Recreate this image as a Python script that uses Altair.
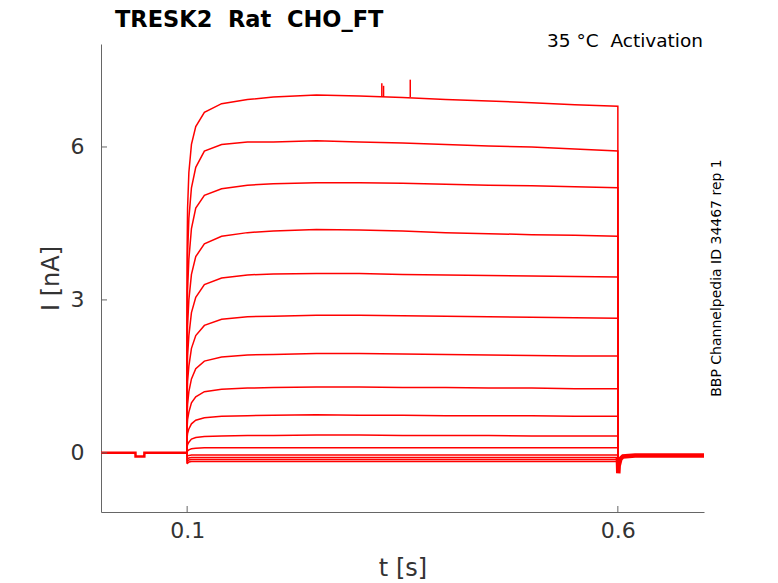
import altair as alt
import pandas as pd

# ---- data ----
TITLE = "TRESK2\u00a0\u00a0Rat\u00a0\u00a0CHO_FT"
CONDITION = "35\u00a0°C\u00a0\u00a0Activation"
SIDE_NOTE = "BBP Channelpedia ID 34467 rep 1"

X_TICKS = [0.1, 0.6]
Y_TICKS = [0, 3, 6]

# holding segment before the step (all sweeps overlap)
PRE_T = [0.0, 0.040, 0.0401, 0.0503, 0.0504, 0.1]
PRE_I = [0.0, 0.0, -0.07, -0.07, 0.0, 0.0]

# step segment sample times
STEP_T = [0.1, 0.1005, 0.102, 0.105, 0.11, 0.12, 0.14, 0.17, 0.2, 0.25,
          0.3, 0.35, 0.4, 0.45, 0.5, 0.55, 0.6]

TRACE_01 = [4.0, 4.8, 5.5, 6.05, 6.4, 6.68, 6.85, 6.93, 6.98, 7.02, 7.0, 6.97, 6.93, 6.9, 6.87, 6.83, 6.8]
TRACE_02 = [3.2, 3.9, 4.6, 5.2, 5.6, 5.92, 6.05, 6.1, 6.1, 6.12, 6.1, 6.08, 6.05, 6.02, 6.0, 5.96, 5.92]
TRACE_03 = [2.6, 3.2, 3.8, 4.4, 4.8, 5.05, 5.18, 5.25, 5.28, 5.3, 5.3, 5.29, 5.27, 5.25, 5.24, 5.22, 5.2]
TRACE_04 = [2.0, 2.5, 3.0, 3.5, 3.85, 4.1, 4.25, 4.32, 4.35, 4.38, 4.37, 4.35, 4.32, 4.3, 4.28, 4.27, 4.25]
TRACE_05 = [1.5, 1.9, 2.3, 2.75, 3.05, 3.3, 3.43, 3.49, 3.51, 3.52, 3.52, 3.5, 3.49, 3.48, 3.47, 3.46, 3.45]
TRACE_06 = [1.1, 1.4, 1.7, 2.05, 2.3, 2.5, 2.62, 2.67, 2.68, 2.7, 2.7, 2.69, 2.68, 2.67, 2.66, 2.65, 2.64]
TRACE_07 = [0.75, 0.95, 1.2, 1.45, 1.65, 1.8, 1.88, 1.92, 1.93, 1.95, 1.95, 1.94, 1.93, 1.92, 1.91, 1.9, 1.9]
TRACE_08 = [0.5, 0.65, 0.8, 0.98, 1.1, 1.2, 1.25, 1.27, 1.28, 1.29, 1.29, 1.28, 1.28, 1.27, 1.27, 1.26, 1.26]
TRACE_09 = [0.3, 0.38, 0.47, 0.57, 0.64, 0.69, 0.72, 0.73, 0.74, 0.75, 0.74, 0.74, 0.73, 0.73, 0.73, 0.72, 0.72]
TRACE_10 = [0.12, 0.16, 0.21, 0.27, 0.3, 0.32, 0.33, 0.34, 0.34, 0.35, 0.35, 0.34, 0.34, 0.34, 0.33, 0.33, 0.33]
TRACE_11 = [0.02, 0.04, 0.06, 0.08, 0.09, 0.1, 0.1, 0.1, 0.1, 0.1, 0.1, 0.1, 0.1, 0.1, 0.1, 0.1, 0.1]
TRACE_12 = [-0.08, -0.06, -0.05, -0.04, -0.04, -0.04, -0.04, -0.04, -0.04, -0.04, -0.04, -0.04, -0.04, -0.04, -0.04, -0.04, -0.04]
TRACE_13 = [-0.15, -0.12, -0.1, -0.09, -0.09, -0.09, -0.09, -0.09, -0.09, -0.09, -0.09, -0.09, -0.09, -0.09, -0.09, -0.09, -0.09]
TRACE_14 = [-0.2, -0.16, -0.14, -0.13, -0.13, -0.13, -0.13, -0.13, -0.13, -0.13, -0.13, -0.13, -0.13, -0.13, -0.13, -0.13, -0.13]
TRACE_15 = [-0.22, -0.2, -0.18, -0.17, -0.17, -0.17, -0.17, -0.17, -0.17, -0.17, -0.17, -0.17, -0.17, -0.17, -0.17, -0.17, -0.17]
TRACES = [TRACE_01, TRACE_02, TRACE_03, TRACE_04, TRACE_05, TRACE_06, TRACE_07, TRACE_08,
          TRACE_09, TRACE_10, TRACE_11, TRACE_12, TRACE_13, TRACE_14, TRACE_15]

# tail after the step (all sweeps overlap)
TAIL_T = [0.6, 0.6005, 0.601, 0.603, 0.606, 0.62, 0.7]
TAIL_I = [-0.1, -0.4, -0.25, -0.12, -0.07, -0.05, -0.05]

# artefact spikes on the largest sweep
SPIKE_T = [0.326, 0.328, 0.359]
SPIKE_BASE = [6.98, 6.98, 6.98]
SPIKE_TOP = [7.25, 7.2, 7.32]

# ---- build tables ----
rows = []
for k, vals in enumerate(TRACES):
    rows.append({"trace": k, "idx": 0, "t": STEP_T[0], "i": 0.0})
    for j, (t, v) in enumerate(zip(STEP_T, vals)):
        rows.append({"trace": k, "idx": j + 1, "t": t, "i": v})
    rows.append({"trace": k, "idx": len(vals) + 1, "t": TAIL_T[0], "i": TAIL_I[0]})
steps = pd.DataFrame(rows)
pre = pd.DataFrame({"t": PRE_T, "i": PRE_I, "idx": range(len(PRE_T))})
tail = pd.DataFrame({"t": TAIL_T, "i": TAIL_I, "idx": range(len(TAIL_T))})
spikes = pd.DataFrame({"t": SPIKE_T, "i": SPIKE_BASE, "i2": SPIKE_TOP})

FONT = "DejaVu Sans"
RED = "#ff0000"
AXC = "#666666"

xs = alt.Scale(domain=[0, 0.7], nice=False, zero=False)
ys = alt.Scale(domain=[-1.16, 8.02], nice=False, zero=False)

x_axis = alt.Axis(values=X_TICKS, format=".1f", title="t [s]", grid=False, ticks=False,
                  domainColor=AXC, labelFontSize=22, labelColor="#333333", labelFont=FONT,
                  labelPadding=8, titleFontSize=24, titleFont=FONT, titleFontWeight="normal",
                  titleColor="#333333", titlePadding=15)
y_axis = alt.Axis(values=Y_TICKS, format="d", title="I [nA]", grid=False, ticks=False,
                  domainColor=AXC, labelFontSize=22, labelColor="#333333", labelFont=FONT,
                  labelPadding=17, titleFontSize=24, titleFont=FONT, titleFontWeight="normal",
                  titleColor="#333333", titlePadding=7)

base_pre = alt.Chart(pre).mark_line(color=RED, strokeWidth=2.5).encode(
    x=alt.X("t:Q", scale=xs, axis=x_axis),
    y=alt.Y("i:Q", scale=ys, axis=y_axis),
    order="idx:Q",
)
step_lines = alt.Chart(steps).mark_line(color=RED, strokeWidth=1.5).encode(
    x=alt.X("t:Q", scale=xs), y=alt.Y("i:Q", scale=ys), detail="trace:N", order="idx:Q"
)
tail_line = alt.Chart(tail).mark_line(color=RED, strokeWidth=4.5).encode(
    x=alt.X("t:Q", scale=xs), y=alt.Y("i:Q", scale=ys), order="idx:Q"
)
spike_rules = alt.Chart(spikes).mark_rule(color=RED, strokeWidth=1.5).encode(
    x=alt.X("t:Q", scale=xs), y=alt.Y("i:Q", scale=ys), y2="i2:Q"
)

xt = alt.Chart(pd.DataFrame({"t": X_TICKS})).mark_rule(color=AXC, strokeWidth=1).encode(
    x=alt.X("t:Q", scale=xs), y=alt.value(468), y2=alt.value(462)
)
yt = alt.Chart(pd.DataFrame({"i": Y_TICKS})).mark_rule(color=AXC, strokeWidth=1).encode(
    y=alt.Y("i:Q", scale=ys), x=alt.value(0), x2=alt.value(6)
)

title_txt = alt.Chart(pd.DataFrame({"s": [TITLE]})).mark_text(
    align="left", baseline="alphabetic", font=FONT, fontSize=22.5, fontWeight="bold", color="black"
).encode(x=alt.value(14), y=alt.value(-17), text="s:N")
cond_txt = alt.Chart(pd.DataFrame({"s": [CONDITION]})).mark_text(
    align="right", baseline="alphabetic", font=FONT, fontSize=18.5, color="black"
).encode(x=alt.value(602), y=alt.value(3), text="s:N")
side_txt = alt.Chart(pd.DataFrame({"s": [SIDE_NOTE]})).mark_text(
    align="center", baseline="middle", font=FONT, fontSize=14, color="black", angle=270
).encode(x=alt.value(616), y=alt.value(234), text="s:N")

chart = alt.layer(
    base_pre, step_lines, tail_line, spike_rules, xt, yt, title_txt, cond_txt, side_txt
).properties(
    width=603, height=468,
    autosize=alt.AutoSizeParams(type="none"),
    padding={"left": 93, "top": 36, "right": 66, "bottom": 72},
).configure_view(stroke=None)

chart.save("out.html", embed_options={"renderer": "svg", "actions": False})
